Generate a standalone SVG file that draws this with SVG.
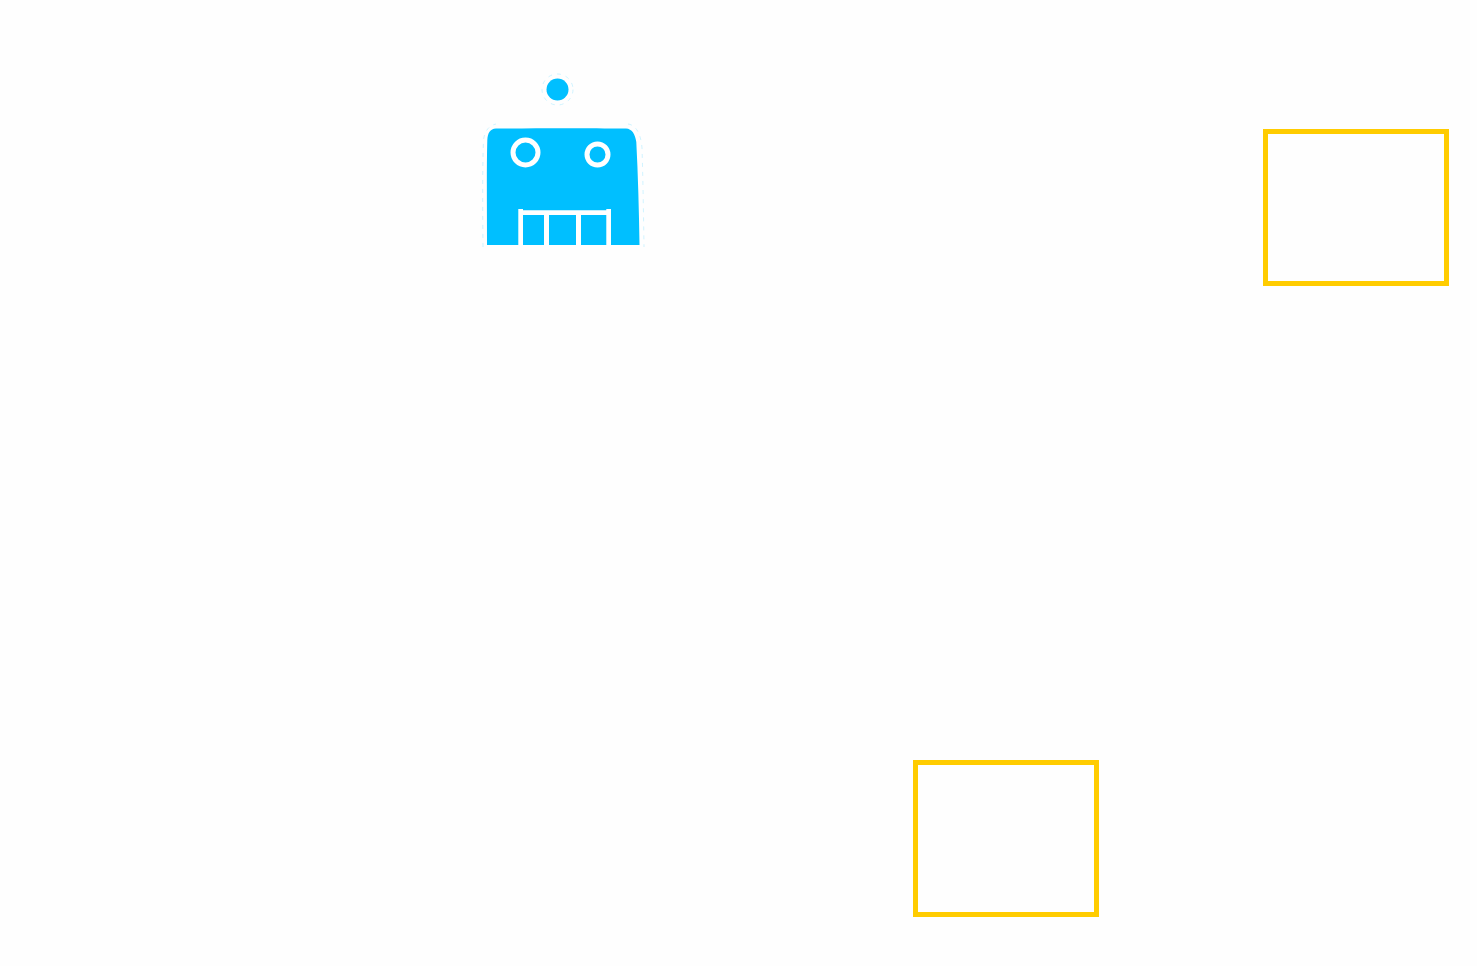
<svg xmlns="http://www.w3.org/2000/svg" width="1477" height="966" viewBox="0 0 1477 966">
<style>
.frame{fill:none;stroke:#ffcc00;stroke-width:5}
.blue{fill:#00bfff}
.line{fill:none;stroke:#ffffff;stroke-width:5}
.halo{fill:none;stroke:#c4f0ff;stroke-width:.8;stroke-dasharray:4 5}
</style>
<rect width="1477" height="966" fill="#fefefe"/>
<g id="robot">
<path class="halo" d="M483 247C482.500 200 482.500 165 483.500 140C484.500 131 489 125.500 496 124M628 124C636 125 641 134 642 148C643 180 643.500 215 644 247"/>
<circle class="halo" cx="557.500" cy="89.500" r="15.500"/>
<path class="blue" d="M487 245C487 205 486.500 170 487.300 140C487.800 133 490 129 496 128.600C540 128 590 128 626 128.600C632 129 635 134 636.300 142C638 175 639 210 639.500 245Z"/>
<circle class="blue" cx="557.500" cy="89.500" r="11"/>
<circle class="line" cx="525.500" cy="152.500" r="12.500"/>
<circle class="line" cx="597.500" cy="154.500" r="10.500"/>
<path fill="#ffffff" d="M518.300 209H523V210.300H606.300V209H611V245H606.300V215H581V245H576V215H549V245H544V215H523V245H518.300Z"/>
</g>
<g id="frame-top-right"><rect class="frame" x="1265.500" y="131.500" width="181" height="152"/></g>
<g id="frame-bottom"><rect class="frame" x="915.500" y="762.500" width="181" height="152"/></g>
<g id="connectors"></g>
</svg>
